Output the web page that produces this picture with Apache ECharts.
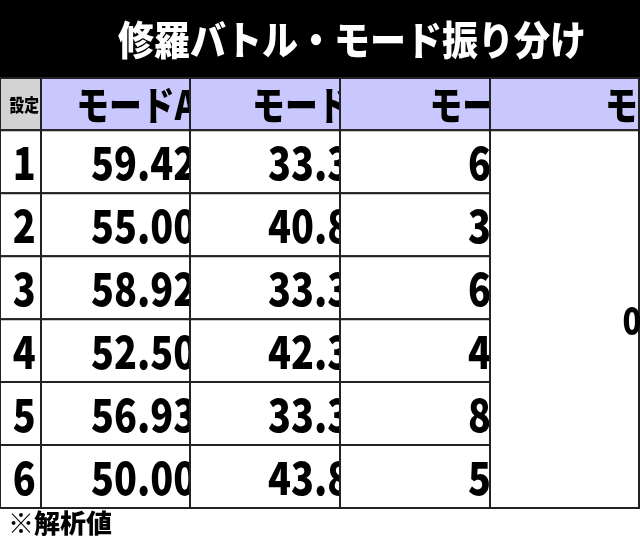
<!DOCTYPE html><html><head><meta charset="utf-8">
<script src="https://cdn.jsdelivr.net/npm/echarts@6/dist/echarts.min.js"></script>
<style>html,body{margin:0;padding:0;background:#fff}#c{width:640px;height:553px}</style></head><body><div id="c"></div>
<script>
const title = '修羅バトル・モード振り分け';
const headers = ['設定','モードA','モードB','モードC','モードD'];
const settings = ['1','2','3','4','5','6'];
const modeA = ['59.42','55.00','58.92','52.50','56.93','50.00'];
const modeB = ['33.33','40.88','33.33','42.38','33.33','43.88'];
const modeC = ['6.25','3.13','6.75','4.12','8.75','5.12'];
const modeD = '0.99';
const note = '※解析値';

const colEdges = [0, 41, 190, 340, 490, 639];
const rowEdges = [0, 0.83, 1.83, 2.83, 3.83, 4.83, 5.83, 6.83];
const F = '"Noto Sans CJK JP", sans-serif';
const cells = [];
headers.forEach((h,i)=>cells.push([i,0,1,h,'head']));
settings.forEach((s,r)=>{
  cells.push([0,r+1,1,s,'set']);
  cells.push([1,r+1,1,modeA[r],'num']);
  cells.push([2,r+1,1,modeB[r],'num']);
  cells.push([3,r+1,1,modeC[r],'num']);
});
cells.push([4,1,6,modeD,'numD']);

const chart = echarts.init(document.getElementById('c'));
chart.setOption({
  animation:false,
  graphic:[
    {type:'rect',shape:{x:0,y:0,width:640,height:77},style:{fill:'#000'},z:-1},
    {type:'text',x:320,y:40,scaleX:0.9,originX:320,style:{text:title,align:'center',verticalAlign:'middle',fontFamily:F,fontWeight:900,fontSize:40,fill:'#fff'}},
    {type:'text',left:8,top:510,style:{text:note,fontFamily:F,fontWeight:900,fontSize:26,fill:'#000'}}
  ],
  grid:{left:0,right:0,top:78,bottom:45},
  xAxis:{type:'value',min:0,max:640,show:false},
  yAxis:{type:'value',min:0,max:6.83,inverse:true,show:false},
  series:[{
    type:'custom',
    data:cells,
    renderItem:(params,api)=>{
      const c=api.value(0), r=api.value(1), span=api.value(2);
      const d=cells[params.dataIndex];
      const p0=api.coord([colEdges[c],rowEdges[r]]), p1=api.coord([colEdges[c+1],rowEdges[r+span]]);
      const w=p1[0]-p0[0], h=p1[1]-p0[1];
      let fill='#fff';
      if(d[4]==='head') fill = c===0?'#d3d3d3':'#c8c8ff';
      let text, x, y=p0[1]+h/2+1, align='center';
      if(d[4]==='head'){
        text = c===0?'{s|'+d[3]+'}':'{h|'+d[3]+'}'; x=p0[0]+w/2;
      } else if(d[4]==='set'){ text='{n|'+d[3]+'}'; x=p0[0]+w/2; }
      else if(d[4]==='num'){ text='{n|'+d[3]+'}{p|%}'; x=p1[0]-6; align='right'; }
      else { text='{d|'+d[3]+'}{q|%}'; x=p0[0]+w/2; }
      return {type:'group',children:[
        {type:'rect',shape:{x:p0[0],y:p0[1],width:w,height:h},style:{fill:fill,stroke:'#222',lineWidth:2}},
        {type:'text',x:x,y:y,originX:x,originY:y,scaleX:0.82,style:{text:text,align:align,verticalAlign:'middle',
          rich:{
            h:{fontFamily:F,fontWeight:900,fontSize:40,fill:'#000'},
            s:{fontFamily:F,fontWeight:900,fontSize:18,fill:'#000'},
            n:{fontFamily:F,fontWeight:900,fontSize:46,fill:'#000'},
            p:{fontFamily:F,fontWeight:900,fontSize:26,fill:'#000',padding:[12,0,0,0]},
            d:{fontFamily:F,fontWeight:900,fontSize:38,fill:'#000'},
            q:{fontFamily:F,fontWeight:900,fontSize:24,fill:'#000',padding:[10,0,0,0]}
          }}}
      ]};
    }
  }]
});
</script></body></html>
